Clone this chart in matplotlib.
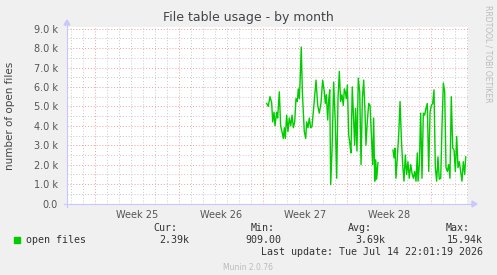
import matplotlib
matplotlib.use("Agg")
import matplotlib.pyplot as plt
import numpy as np
from matplotlib.patches import Rectangle

# ---- data (days since start of Week 25, values in open files) ----
seg1_days = [14.31, 14.44, 14.58, 14.72, 14.81, 14.92, 15.00, 15.14, 15.22, 15.36,
             15.47, 15.58, 15.69, 15.78, 15.86, 15.97, 16.08, 16.19, 16.31, 16.42,
             16.53, 16.64, 16.75, 16.86, 16.94, 17.03, 17.11, 17.19, 17.28, 17.36,
             17.44, 17.56, 17.64, 17.75, 17.86, 17.97, 18.08, 18.22, 18.42, 18.56,
             18.69, 18.83, 18.97, 19.11, 19.19, 19.28, 19.39, 19.47, 19.56, 19.64,
             19.75, 19.89, 20.03, 20.14, 20.25, 20.36, 20.47, 20.58, 20.69, 20.78,
             20.86, 20.94, 21.03, 21.14, 21.25, 21.33, 21.44, 21.56, 21.64, 21.72,
             21.83, 21.94, 22.06, 22.17, 22.28, 22.39, 22.50, 22.58, 22.69, 22.81,
             22.92, 23.03, 23.14, 23.22, 23.31, 23.39, 23.47, 23.58]
seg1_vals = [5150, 5000, 5500, 5200, 4200, 4700, 4000, 4700, 4400, 5750,
             4000, 3700, 3350, 3900, 3350, 4550, 3700, 4400, 4000, 4550,
             3900, 4200, 5400, 5250, 5900, 5400, 6600, 8050, 5750, 4700,
             3700, 3350, 4200, 3900, 4400, 3900, 3950, 4900, 6350, 5050,
             4650, 5150, 6350, 5750, 5150, 5600, 4300, 5300, 5850, 970,
             2700, 6250, 4050, 1300, 5400, 6800, 5250, 5600, 5050, 5900,
             5750, 5400, 6100, 3550, 3000, 2600, 6000, 4200, 3000, 4900,
             2700, 6450, 5750, 2000, 5400, 6350, 4700, 3000, 4200, 5150,
             5050, 3550, 2000, 4400, 1150, 2250, 1250, 2100]

seg2_days = [24.83, 24.92, 25.00, 25.08, 25.19, 25.31, 25.42, 25.53, 25.64, 25.75,
             25.86, 25.97, 26.08, 26.19, 26.31, 26.42, 26.53, 26.64, 26.75, 26.86,
             26.92, 27.03, 27.14, 27.25, 27.36, 27.47, 27.58, 27.69, 27.81, 27.92,
             28.03, 28.14, 28.25, 28.36, 28.47, 28.58, 28.69, 28.81, 28.92, 29.03,
             29.14, 29.25, 29.36, 29.47, 29.58, 29.69, 29.81, 29.92, 30.03, 30.14,
             30.25, 30.36, 30.47, 30.58, 30.69, 30.81, 30.89]
seg2_vals = [2750, 2350, 2850, 1300, 2350, 3550, 5250, 3350, 2000, 1150,
             2500, 1500, 2150, 1300, 2000, 1550, 1300, 1650, 1150, 2600,
             1150, 2000, 4650, 1300, 4650, 4550, 4900, 5150, 1650, 4700,
             5050, 5150, 5850, 1850, 1150, 2400, 1250, 1300, 4050, 6200,
             5750, 1850, 1650, 2000, 1300, 5500, 2850, 2750, 1650, 3450,
             1850, 2150, 1650, 1150, 2150, 1500, 2400]

week_labels = ["Week 25", "Week 26", "Week 27", "Week 28"]
week_starts = [0, 7, 14, 21, 28]
y_ticks = [0, 1000, 2000, 3000, 4000, 5000, 6000, 7000, 8000, 9000]
y_tick_labels = ["0.0", "1.0 k", "2.0 k", "3.0 k", "4.0 k", "5.0 k",
                 "6.0 k", "7.0 k", "8.0 k", "9.0 k"]
legend_name = "open files"
stat_names = ["Cur:", "Min:", "Avg:", "Max:"]
stat_values = ["2.39k", "909.00", "3.69k", "15.94k"]
last_update = "Last update: Tue Jul 14 22:01:19 2026"

# ---- figure ----
W, H = 497, 275
BG = "#F0F0F0"
fig = plt.figure(figsize=(W / 100, H / 100), dpi=100, facecolor=BG)

def fx(px):
    return px / W

def fy(py):
    return 1 - py / H

left, right, top, bottom = 67, 468, 26.7, 204
ax = fig.add_axes([fx(left), fy(bottom), fx(right - left), fy(top) - fy(bottom)])
ax.set_facecolor("white")
ax.set_xlim(-2.333, 31.083)
ax.set_ylim(-25, 9100)
for s in ax.spines.values():
    s.set_visible(False)

# grid
minor_col = "#C8C8C8"
major_col = "#F0A0A0"
for d in np.arange(-2, 32, 1):
    if d in week_starts:
        continue
    ax.axvline(d, color=minor_col, lw=0.7, ls=(0, (1, 2)), zorder=1)
for d in week_starts:
    ax.axvline(d, color=major_col, lw=0.7, ls=(0, (1, 2)), zorder=1)
for v in np.arange(500, 9000, 1000):
    ax.axhline(v, color=minor_col, lw=0.7, ls=(0, (1, 2)), zorder=1)
for v in y_ticks[1:]:
    ax.axhline(v, color=major_col, lw=0.7, ls=(0, (1, 2)), zorder=1)

# data
ax.plot(seg1_days, seg1_vals, color="#00CC00", lw=1.0, zorder=3)
ax.plot(seg2_days, seg2_vals, color="#00CC00", lw=1.0, zorder=3)

# ticks
ax.set_yticks(y_ticks)
ax.set_yticklabels(y_tick_labels)
ax.set_xticks([d + 3.5 for d in week_starts[:4]])
ax.set_xticklabels(week_labels)
ax.tick_params(axis="both", length=0, colors="#555555", labelsize=7)
ax.tick_params(axis="y", pad=6.5)
ax.tick_params(axis="x", pad=4)

# axis lines with arrows
axis_col = "#C8C8FF"
fig.add_artist(plt.Line2D([fx(64), fx(472)], [fy(204), fy(204)], color=axis_col, lw=0.8))
fig.add_artist(plt.Line2D([fx(67), fx(67)], [fy(207), fy(24)], color=axis_col, lw=0.8))
fig.patches.append(plt.Polygon([[fx(472), fy(201)], [fx(477), fy(204)], [fx(472), fy(207)]],
                               closed=True, color=axis_col, transform=fig.transFigure))
fig.patches.append(plt.Polygon([[fx(64), fy(25)], [fx(67), fy(20)], [fx(70), fy(25)]],
                               closed=True, color=axis_col, transform=fig.transFigure))

# title & labels
fig.text(fx(248), fy(18), "File table usage - by month", ha="center", va="center",
         fontsize=9, color="#444444")
fig.text(fx(10), fy(116), "number of open files", rotation=90, ha="center", va="center",
         fontsize=7.5, color="#444444")
fig.text(fx(488), fy(5), "RRDTOOL / TOBI OETIKER", rotation=270, ha="center", va="top",
         fontsize=5.5, color="#BBBBBB")

# legend
mono = "DejaVu Sans Mono"
fig.patches.append(Rectangle((fx(14), fy(243)), fx(6), fy(237) - fy(243), color="#00CC00",
                             transform=fig.transFigure))
fig.text(fx(26), fy(240), legend_name, ha="left", va="center", family=mono,
         fontsize=7.2, color="#333333")
stat_right = [177, 275, 372, 470]
val_right = [189, 281, 385, 483]
for x, s in zip(stat_right, stat_names):
    fig.text(fx(x), fy(228), s, ha="right", va="center", family=mono, fontsize=7.2,
             color="#333333")
for x, s in zip(val_right, stat_values):
    fig.text(fx(x), fy(240), s, ha="right", va="center", family=mono, fontsize=7.2,
             color="#333333")
fig.text(fx(483), fy(252), last_update, ha="right", va="center", family=mono,
         fontsize=7.2, color="#333333")
fig.text(fx(248), fy(268), "Munin 2.0.76", ha="center", va="center", fontsize=5.5,
         color="#BBBBBB")

fig.savefig("out.png", dpi=100, facecolor=BG)
